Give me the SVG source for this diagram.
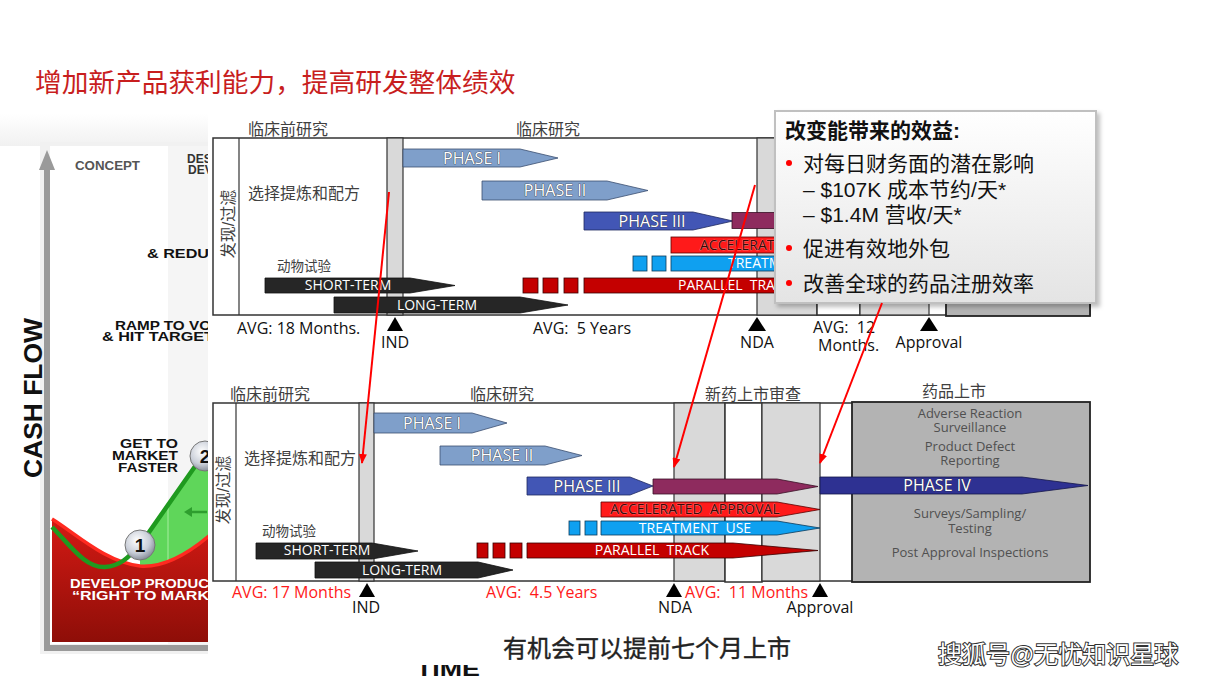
<svg xmlns="http://www.w3.org/2000/svg" width="1209" height="680" viewBox="0 0 1209 680">
<style>
.cj{font-family:"Liberation Sans","Noto Sans CJK SC",sans-serif;fill:#404040}
.lab{font-family:"Open Sans","Noto Sans",sans-serif;font-size:16px;fill:#111}
.avr{font-family:"Open Sans","Noto Sans",sans-serif;font-size:16px;fill:#ff1a1a}
.ph{font-family:"Open Sans","Noto Sans",sans-serif;font-size:16px;fill:#fff;stroke:#2a2a2a;stroke-width:.7;paint-order:stroke;text-anchor:middle}
.sm{font-family:"Open Sans","Noto Sans",sans-serif;font-size:14px;fill:#fff;text-anchor:middle}
.sd{font-family:"Open Sans","Noto Sans",sans-serif;font-size:14px;fill:#3a0808;stroke:#ffb0b0;stroke-width:.5;paint-order:stroke}
.gt{font-family:"Open Sans","Noto Sans",sans-serif;font-size:13px;fill:#505050;text-anchor:middle}
.box{fill:#fff;stroke:#333;stroke-width:1.5}
.band{fill:#d9d9d9;stroke:#333;stroke-width:1.2}
.ln{stroke:#333;stroke-width:1.2;fill:none}
.bk{fill:#262626;stroke:#111;stroke-width:.8}
.p12{fill:#7f9fca;stroke:#3a4e70;stroke-width:.8}
.p3{fill:#4256b5;stroke:#1f2a60;stroke-width:.8}
.pu{fill:#8e2b5e;stroke:#3a1026;stroke-width:.8}
.rd{fill:#ff1a1a;stroke:#5a0000;stroke-width:.8}
.bl{fill:#0fa0f0;stroke:#0a3a5a;stroke-width:.8}
.dr{fill:#c40000;stroke:#3a0000;stroke-width:.8}
.tri{fill:#000}
.gb{fill:#b3b3b3;stroke:#222;stroke-width:1.8}
.lc{font-family:"Liberation Sans",Arial,sans-serif;font-weight:bold}
.co{font-family:"Liberation Sans","Noto Sans CJK SC",sans-serif;font-size:21px;fill:#111}
</style>
<defs>
<clipPath id="leftclip"><rect x="0" y="0" width="208" height="680"/></clipPath>
<clipPath id="timeclip"><rect x="300" y="665" width="300" height="20"/></clipPath>
<linearGradient id="redg" x1="0" y1="0" x2="0" y2="1"><stop offset="0" stop-color="#d41a14"/><stop offset="1" stop-color="#8e0e08"/></linearGradient>
<linearGradient id="topfade" x1="0" y1="0" x2="0" y2="1"><stop offset="0" stop-color="#fff"/><stop offset="1" stop-color="#f1f1f1"/></linearGradient>
<linearGradient id="cog" x1="0" y1="0" x2="0" y2="1"><stop offset="0" stop-color="#ffffff"/><stop offset="1" stop-color="#e4e4e4"/></linearGradient>
<radialGradient id="ball" cx="0.4" cy="0.35" r="0.7"><stop offset="0" stop-color="#ffffff"/><stop offset="0.6" stop-color="#c9ced8"/><stop offset="1" stop-color="#7d8490"/></radialGradient>
<filter id="sh" x="-5%" y="-5%" width="115%" height="115%"><feDropShadow dx="3" dy="3" stdDeviation="2" flood-color="#000" flood-opacity="0.25"/></filter>
<marker id="ah" markerWidth="10" markerHeight="8" refX="9" refY="4" orient="auto" markerUnits="userSpaceOnUse"><path d="M0,0 L10,4 L0,8 z" fill="#ff0000"/></marker>
</defs>

<rect x="0" y="0" width="1209" height="680" fill="#fff"/>

<text id="title" x="35" y="92" style="font-family:'Liberation Sans','Noto Sans CJK SC',sans-serif" font-size="26.7" fill="#c81e1e">增加新产品获利能力，提高研发整体绩效</text>

<!-- left background chart -->
<g id="cashflow-chart" clip-path="url(#leftclip)">
  <rect x="0" y="114" width="208" height="32" fill="url(#topfade)"/>
  <rect x="40" y="142" width="170" height="512" fill="#f1f1f1"/>
  <rect x="50" y="146" width="160" height="498" fill="#ffffff"/>
  <rect x="168" y="146" width="42" height="498" fill="#f5f5f5"/>
  <path d="M52,519 C75,533 105,562 140,566 C165,568 190,552 210,535 L210,642 L52,642 Z" fill="url(#redg)"/>
  <path d="M140,545 L203,455 L210,452 L210,535 C190,552 165,568 140,566 Z" fill="#5fd65a"/>
  <line x1="168" y1="505" x2="168" y2="560" stroke="#a8eea0" stroke-width="1"/>
  <path d="M52,519 C75,533 105,562 140,566 C165,568 190,552 210,535" fill="none" stroke="#ff2a20" stroke-width="3.5"/>
  <path d="M52,527 C70,545 85,568 105,567 C120,566 128,558 140,545 L203,455" fill="none" stroke="#1f9a1f" stroke-width="4.5"/>
  <path d="M207,512 L190,512" stroke="#2e9e2e" stroke-width="2.5"/>
  <path d="M184,512 L192,507 L192,517 Z" fill="#2e9e2e"/>
  <rect x="44" y="164" width="6" height="486" fill="#9a9a9a"/>
  <path d="M39,170 L47,150 L55,170 Z" fill="#9a9a9a"/>
  <rect x="44" y="645" width="166" height="6" fill="#9a9a9a"/>
  <text class="lc" x="33" y="398" font-size="26" fill="#111" text-anchor="middle" transform="rotate(-90 33 398)" dy="9" textLength="160" lengthAdjust="spacingAndGlyphs">CASH FLOW</text>
  <text class="lc" x="75" y="170" font-size="12.5" fill="#555" textLength="65" lengthAdjust="spacingAndGlyphs">CONCEPT</text>
  <text class="lc" font-size="12" fill="#333"><tspan x="187" y="163">DES</tspan><tspan x="188" y="174">DEV</tspan></text>
  <text class="lc" x="147" y="258" font-size="13" fill="#111" textLength="62" lengthAdjust="spacingAndGlyphs">&amp; REDU</text>
  <text class="lc" font-size="13" fill="#111"><tspan x="115" y="330" textLength="96" lengthAdjust="spacingAndGlyphs">RAMP TO VO</tspan><tspan x="102" y="341" textLength="112" lengthAdjust="spacingAndGlyphs">&amp; HIT TARGET</tspan></text>
  <text class="lc" font-size="13" fill="#111"><tspan x="120" y="448" textLength="58" lengthAdjust="spacingAndGlyphs">GET TO</tspan><tspan x="112" y="460" textLength="66" lengthAdjust="spacingAndGlyphs">MARKET</tspan><tspan x="118" y="472" textLength="60" lengthAdjust="spacingAndGlyphs">FASTER</tspan></text>
  <text class="lc" font-size="13" fill="#fff"><tspan x="70" y="588" textLength="139" lengthAdjust="spacingAndGlyphs">DEVELOP PRODUC</tspan><tspan x="72" y="600" textLength="137" lengthAdjust="spacingAndGlyphs">“RIGHT TO MARK</tspan></text>
  <circle cx="140" cy="545" r="15" fill="url(#ball)" stroke="#777" stroke-width="1"/>
  <text class="lc" x="140" y="552" font-size="19" fill="#111" text-anchor="middle">1</text>
  <circle cx="205" cy="456" r="15" fill="url(#ball)" stroke="#777" stroke-width="1"/>
  <text class="lc" x="205" y="463" font-size="19" fill="#111" text-anchor="middle">2</text>
</g>
<text class="lc" x="416" y="676" font-size="20" fill="#111" clip-path="url(#timeclip)" textLength="64" lengthAdjust="spacingAndGlyphs">TIME</text>

<!-- TOP timeline -->
<g id="top-timeline">
  <rect class="box" x="213" y="138" width="877" height="177"/>
  <line class="ln" x1="239" y1="138" x2="239" y2="315"/>
  <rect class="band" x="387" y="138" width="16" height="177"/>
  <rect class="band" x="757" y="138" width="60" height="177"/>
  <rect class="box" x="817" y="138" width="43" height="177"/>
  <rect class="band" x="860" y="138" width="69" height="177"/>
  <rect class="gb" x="946" y="138" width="144" height="178"/>
  <text class="cj" x="248" y="135" font-size="16">临床前研究</text>
  <text class="cj" x="516" y="135" font-size="16">临床研究</text>
  <text class="cj" x="0" y="0" font-size="16" text-anchor="middle" transform="translate(228 224) rotate(-90)" dy="6">发现/过滤</text>
  <text class="cj" x="248" y="199" font-size="16">选择提炼和配方</text>
  <text class="cj" x="277" y="271" font-size="13.5">动物试验</text>
  <path class="p12" d="M403,149 L520,149 L558,158 L520,167 L403,167 Z"/>
  <text class="ph" x="472" y="164">PHASE I</text>
  <path class="p12" d="M482,181 L607,181 L648,190.5 L607,200 L482,200 Z"/>
  <text class="ph" x="555" y="196">PHASE II</text>
  <path class="p3" d="M584,212 L693,212 L733,221 L693,230 L584,230 Z"/>
  <text class="ph" x="652" y="227">PHASE III</text>
  <rect class="pu" x="732" y="212.5" width="70" height="16"/>
  <rect class="rd" x="671" y="237" width="130" height="16"/>
  <text class="sd" x="700" y="250">ACCELERAT</text>
  <rect class="bl" x="633" y="256" width="14" height="15"/>
  <rect class="bl" x="652" y="256" width="14" height="15"/>
  <rect class="bl" x="671" y="256" width="130" height="15"/>
  <text class="sm" x="728" y="268" style="text-anchor:start">TREATM</text>
  <rect class="dr" x="523" y="278" width="15" height="15"/>
  <rect class="dr" x="543" y="278" width="15" height="15"/>
  <rect class="dr" x="564" y="278" width="14" height="15"/>
  <rect class="dr" x="584" y="278" width="217" height="15"/>
  <text class="sm" x="678" y="290" style="text-anchor:start">PARALLEL&#160; TRA</text>
  <path class="bk" d="M265,278 L410,278 L455,285.5 L410,293 L265,293 Z"/>
  <text class="sm" x="348" y="290">SHORT-TERM</text>
  <path class="bk" d="M334,297 L520,297 L568,305 L520,313 L334,313 Z"/>
  <text class="sm" x="437" y="310">LONG-TERM</text>
  <text class="lab" x="237" y="334">AVG: 18 Months.</text>
  <path class="tri" d="M395,317 L387,331 L403,331 Z"/>
  <text class="lab" x="395" y="348" text-anchor="middle">IND</text>
  <text class="lab" x="533" y="334">AVG:&#160; 5 Years</text>
  <path class="tri" d="M757,317 L748,331 L766,331 Z"/>
  <text class="lab" x="757" y="348" text-anchor="middle">NDA</text>
  <text class="lab"><tspan x="813" y="333">AVG:&#160; 12</tspan><tspan x="818" y="351">Months.</tspan></text>
  <path class="tri" d="M929,317 L920,331 L938,331 Z"/>
  <text class="lab" x="929" y="348" text-anchor="middle">Approval</text>
</g>

<!-- BOTTOM timeline -->
<g id="bottom-timeline">
  <rect class="box" x="213" y="403" width="640" height="178"/>
  <line class="ln" x1="236" y1="403" x2="236" y2="581"/>
  <rect class="band" x="359" y="403" width="15" height="178"/>
  <rect class="band" x="674" y="403" width="51" height="178"/>
  <rect class="box" x="725" y="403" width="37" height="179"/>
  <rect class="band" x="762" y="403" width="58" height="178"/>
  <rect class="gb" x="852" y="402" width="238" height="180"/>
  <text class="cj" x="230" y="400" font-size="16">临床前研究</text>
  <text class="cj" x="470" y="400" font-size="16">临床研究</text>
  <text class="cj" x="705" y="400" font-size="16">新药上市审查</text>
  <text class="cj" x="922" y="397" font-size="16">药品上市</text>
  <text class="cj" x="0" y="0" font-size="16" text-anchor="middle" transform="translate(223 490) rotate(-90)" dy="6">发现/过滤</text>
  <text class="cj" x="244" y="464" font-size="16">选择提炼和配方</text>
  <text class="cj" x="262" y="536" font-size="13.5">动物试验</text>
  <path class="p12" d="M374,413 L472,413 L507,423 L472,433 L374,433 Z"/>
  <text class="ph" x="432" y="429">PHASE I</text>
  <path class="p12" d="M440,446 L545,446 L582,455.5 L545,465 L440,465 Z"/>
  <text class="ph" x="502" y="461">PHASE II</text>
  <path class="p3" d="M527,477 L630,477 L653,486 L630,495 L527,495 Z"/>
  <text class="ph" x="587" y="492">PHASE III</text>
  <path class="pu" d="M653,479 L777,479 L818,486.5 L777,494 L653,494 Z"/>
  <path class="rd" d="M601,502 L777,502 L820,509.5 L777,517 L601,517 Z"/>
  <text class="sd" x="695" y="514" text-anchor="middle">ACCELERATED&#160; APPROVAL</text>
  <rect class="bl" x="569" y="521" width="11" height="14"/>
  <rect class="bl" x="585" y="521" width="12" height="14"/>
  <path class="bl" d="M601,521 L777,521 L820,528 L777,535 L601,535 Z"/>
  <text class="sm" x="695" y="533">TREATMENT&#160; USE</text>
  <rect class="dr" x="477" y="543" width="11" height="15"/>
  <rect class="dr" x="493" y="543" width="12" height="15"/>
  <rect class="dr" x="510" y="543" width="12" height="15"/>
  <path class="dr" d="M527,543 L733,543 L818,550.5 L733,558 L527,558 Z"/>
  <text class="sm" x="652" y="555">PARALLEL&#160; TRACK</text>
  <path class="bk" d="M256,543 L372,543 L418,551 L372,559 L256,559 Z"/>
  <text class="sm" x="327" y="555">SHORT-TERM</text>
  <path class="bk" d="M315,562 L478,562 L513,570 L478,578 L315,578 Z"/>
  <text class="sm" x="402" y="575">LONG-TERM</text>
  <path d="M820,477 L1022,477 L1088,485.5 L1022,494 L820,494 Z" fill="#2e3192" stroke="#15174a" stroke-width=".8"/>
  <text class="ph" x="937" y="491">PHASE IV</text>
  <text class="gt"><tspan x="970" y="418">Adverse Reaction</tspan><tspan x="970" y="432">Surveillance</tspan></text>
  <text class="gt"><tspan x="970" y="451">Product Defect</tspan><tspan x="970" y="465">Reporting</tspan></text>
  <text class="gt"><tspan x="970" y="518">Surveys/Sampling/</tspan><tspan x="970" y="533">Testing</tspan></text>
  <text class="gt" x="970" y="557">Post Approval Inspections</text>
  <text class="avr" x="232" y="598">AVG: 17 Months</text>
  <path class="tri" d="M367,583 L359,597 L375,597 Z"/>
  <text class="lab" x="366" y="613" text-anchor="middle">IND</text>
  <text class="avr" x="486" y="598">AVG:&#160; 4.5 Years</text>
  <path class="tri" d="M674,583 L666,597 L682,597 Z"/>
  <text class="lab" x="675" y="613" text-anchor="middle">NDA</text>
  <text class="avr" x="685" y="598">AVG:&#160; 11 Months</text>
  <path class="tri" d="M820,583 L812,597 L828,597 Z"/>
  <text class="lab" x="820" y="613" text-anchor="middle">Approval</text>
</g>

<!-- callout -->
<g id="benefits-callout">
  <rect x="775" y="111" width="321" height="192" fill="url(#cog)" stroke="#c0c0c0" stroke-width="2" filter="url(#sh)"/>
  <text class="co" x="785" y="138" style="font-weight:bold">改变能带来的效益:</text>
  <circle cx="789" cy="163" r="3" fill="#ff0000"/>
  <text class="co" x="803" y="171">对每日财务面的潜在影响</text>
  <text class="co" x="803" y="197" font-size="20">– $107K 成本节约/天*</text>
  <text class="co" x="803" y="222" font-size="20">– $1.4M 营收/天*</text>
  <circle cx="789" cy="248" r="3" fill="#ff0000"/>
  <text class="co" x="803" y="256">促进有效地外包</text>
  <circle cx="789" cy="283" r="3" fill="#ff0000"/>
  <text class="co" x="803" y="291">改善全球的药品注册效率</text>
</g>

<!-- connectors -->
<g id="connectors" stroke="#ff0000" stroke-width="2" fill="none">
  <line x1="389" y1="192" x2="362" y2="463" marker-end="url(#ah)"/>
  <line x1="755" y1="185" x2="674" y2="467" marker-end="url(#ah)"/>
  <line x1="882" y1="303" x2="820" y2="463" marker-end="url(#ah)"/>
</g>

<text id="caption" x="503" y="657" style="font-family:'Liberation Sans','Noto Sans CJK SC',sans-serif" font-size="24" fill="#222" stroke="#222" stroke-width="0.4">有机会可以提前七个月上市</text>
<text id="watermark" x="938" y="663" style="font-family:'Liberation Sans','Noto Sans CJK SC',sans-serif;paint-order:stroke" font-size="24" fill="#fff" stroke="#333" stroke-width="2">搜狐号@无忧知识星球</text>
</svg>
